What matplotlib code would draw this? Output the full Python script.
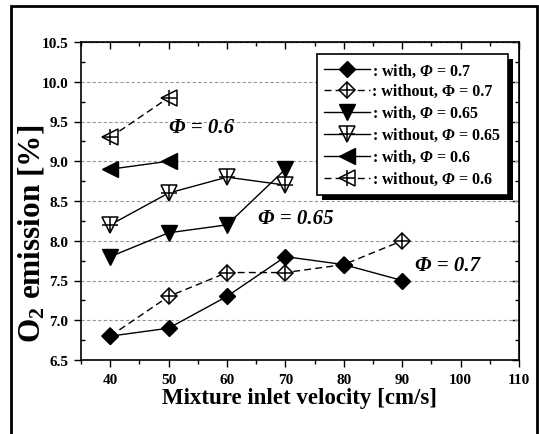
import matplotlib
matplotlib.use("Agg")
import matplotlib.pyplot as plt
from matplotlib.patches import Rectangle
from matplotlib.ticker import MultipleLocator, FormatStrFormatter

# ── data ──────────────────────────────────────────────────────────────────────
vel_07 = [40, 50, 60, 70, 80, 90]
with_07 = [6.8, 6.9, 7.3, 7.8, 7.7, 7.5]
without_07 = [6.8, 7.3, 7.6, 7.6, 7.7, 8.0]

vel_065 = [40, 50, 60, 70]
with_065 = [7.8, 8.1, 8.2, 8.9]
without_065 = [8.2, 8.6, 8.8, 8.7]

vel_06 = [40, 50]
with_06 = [8.9, 9.0]
without_06 = [9.3, 9.8]

# ── style ─────────────────────────────────────────────────────────────────────
plt.rcParams["font.family"] = "Liberation Serif"
plt.rcParams["font.weight"] = "bold"
plt.rcParams["mathtext.fontset"] = "custom"
plt.rcParams["mathtext.rm"] = "Liberation Serif:bold"
plt.rcParams["mathtext.bf"] = "Liberation Serif:bold"
plt.rcParams["mathtext.it"] = "Liberation Serif:italic:bold"
plt.rcParams["mathtext.sf"] = "Liberation Serif:italic:bold"   # used for italic Φ

DASH = (0, (5, 3))
W, H = 539, 435

fig = plt.figure(figsize=(W / 100, H / 100), dpi=100)
ax = fig.add_axes([81 / W, 1 - 361 / H, 438 / W, 318 / H])

# ── series ────────────────────────────────────────────────────────────────────
def open_marker(x, y, marker, ls, ms):
    ln, = ax.plot(x, y, color="black", lw=1.0, ls=ls, marker=marker, ms=ms,
                  mfc="white", mec="black", mew=1.1, zorder=3)
    pl, = ax.plot(x, y, ls="none", marker="+", ms=ms + 1, mec="black",
                  mew=1.1, zorder=3.1)
    return (ln, pl)

h_wo07 = open_marker(vel_07, without_07, "D", DASH, 8.5)
h_w07, = ax.plot(vel_07, with_07, color="black", lw=1.0, marker="D", ms=8.5,
                 mfc="black", mec="black", zorder=4)
h_w065, = ax.plot(vel_065, with_065, color="black", lw=1.0, marker="v", ms=11,
                  mfc="black", mec="black", zorder=4)
h_wo065 = open_marker(vel_065, without_065, "v", "-", 11)
h_w06, = ax.plot(vel_06, with_06, color="black", lw=1.0, marker="<", ms=11,
                 mfc="black", mec="black", zorder=4)
h_wo06 = open_marker(vel_06, without_06, "<", DASH, 11)

# ── axes ──────────────────────────────────────────────────────────────────────
ax.set_xlim(35, 110)
ax.set_ylim(6.5, 10.5)
ax.xaxis.set_major_locator(MultipleLocator(10))
ax.xaxis.set_minor_locator(MultipleLocator(5))
ax.yaxis.set_major_locator(MultipleLocator(0.5))
ax.yaxis.set_minor_locator(MultipleLocator(0.25))
ax.yaxis.set_major_formatter(FormatStrFormatter("%.1f"))
ax.set_xticks([40, 50, 60, 70, 80, 90, 100, 110])

ax.tick_params(which="major", direction="out", length=5, width=1.0,
               labelsize=11, pad=4)
ax.tick_params(which="minor", direction="out", length=3, width=1.0)
ax.tick_params(axis="y", which="minor", direction="in")
for s in ax.spines.values():
    s.set_linewidth(1.2)

top = ax.secondary_xaxis("top")
top.xaxis.set_major_locator(MultipleLocator(10))
top.xaxis.set_minor_locator(MultipleLocator(5))
top.tick_params(which="both", direction="in", labeltop=False, width=1.0)
top.tick_params(which="major", length=5)
top.tick_params(which="minor", length=3)
right = ax.secondary_yaxis("right")
right.yaxis.set_major_locator(MultipleLocator(0.5))
right.yaxis.set_minor_locator(MultipleLocator(0.25))
right.tick_params(which="both", direction="in", labelright=False, width=1.0)
right.tick_params(which="major", length=5)
right.tick_params(which="minor", length=3)

ax.yaxis.grid(True, ls=(0, (3, 2)), color="#999999", lw=0.8)
ax.set_axisbelow(True)

ax.set_xlabel("Mixture inlet velocity [cm/s]", fontsize=16.5,
              fontweight="bold", labelpad=1)
ax.set_ylabel("O$_\\mathrm{2}$ emission [%]", fontsize=22.5, fontweight="bold")
ax.yaxis.set_label_coords(-0.078, 0.40)

# ── annotations ───────────────────────────────────────────────────────────────
for x, y, t in [(55.7, 9.43, "Φ = 0.6"), (71.7, 8.29, "Φ = 0.65"),
                (97.7, 7.70, "Φ = 0.7")]:
    ax.text(x, y, t, fontsize=15, fontstyle="italic", fontweight="bold",
            ha="center", va="center")

# ── legend ────────────────────────────────────────────────────────────────────
PHI = "$\\mathsf{Φ}$"
handles = [h_w07, h_wo07, h_w065, h_wo065, h_w06, h_wo06]
labels = [": with, " + PHI + " = 0.7", ": without, Φ = 0.7",
          ": with, " + PHI + " = 0.65", ": without, " + PHI + " = 0.65",
          ": with, " + PHI + " = 0.6", ": without, " + PHI + " = 0.6"]
leg = ax.legend(handles, labels, loc="upper right",
                bbox_to_anchor=(0.975, 0.962), borderaxespad=0,
                prop={"family": "Liberation Serif", "weight": "bold",
                      "size": 11.5},
                numpoints=1, handlelength=2.9,
                handletextpad=0.1, labelspacing=0.3, borderpad=0.45,
                fancybox=False, framealpha=1, edgecolor="black")
leg.get_frame().set_linewidth(1.2)
leg.set_zorder(6)

fig.canvas.draw()
bb = leg.get_frame().get_window_extent().transformed(ax.transAxes.inverted())
dx, dy = 5 / 438, 5 / 318
ax.add_patch(Rectangle((bb.x0 + dx, bb.y0 - dy), bb.width, bb.height,
                       transform=ax.transAxes, facecolor="black",
                       edgecolor="none", clip_on=False, zorder=5.9))

# ── figure border ─────────────────────────────────────────────────────────────
fig.patches.append(Rectangle((11 / W, -0.05), 526 / W, 1.05 - 7 / H,
                             transform=fig.transFigure, fill=False,
                             edgecolor="black", lw=2.0, clip_on=False))

fig.savefig("out.png", dpi=100, facecolor="white")
